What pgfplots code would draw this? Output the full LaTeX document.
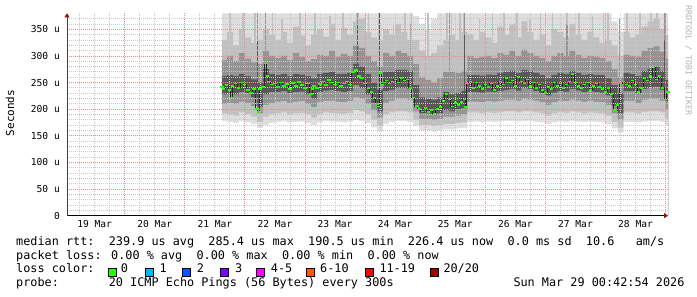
\documentclass[border=0pt]{standalone}
\usepackage{fontspec}
\usepackage{pgfplots}
\pgfplotsset{compat=1.18}
\usepackage{pgfplotstable}
\usetikzlibrary{arrows.meta}
\newfontfamily\mono{DejaVu Sans Mono}
\newcommand\legfont{\mono\fontsize{11.83}{14}\selectfont}
\newcommand\tickfont{\mono\fontsize{9.6}{11}\selectfont}
\newcommand\unitfont{\mono\fontsize{11}{13}\selectfont}
\newcommand\wmfont{\mono\fontsize{8.3}{10}\selectfont}
\definecolor{gridgray}{RGB}{200,200,200}
\definecolor{gridred}{RGB}{235,140,140}
\definecolor{arrowred}{RGB}{150,20,20}
\definecolor{s1}{RGB}{222,222,222}
\definecolor{s2}{RGB}{192,192,192}
\definecolor{s3}{RGB}{148,148,148}
\definecolor{s4}{RGB}{88,88,88}
\definecolor{medgreen}{RGB}{38,255,0}
\definecolor{lc1}{RGB}{0,184,255}
\definecolor{lc2}{RGB}{0,89,255}
\definecolor{lc3}{RGB}{126,0,255}
\definecolor{lc4}{RGB}{255,0,255}
\definecolor{lc5}{RGB}{255,85,0}
\definecolor{lc6}{RGB}{255,0,0}
\definecolor{lc7}{RGB}{161,0,0}
\definecolor{wmgray}{RGB}{180,180,180}

\pgfplotstableread{
x lo1 lo2 lo3 lo4 hi4 hi3 hi2 hi1
2.62 178 192 210 228 262 292 330 380
2.7 176 190 212 230 264 300 345 380
2.8 174 188 210 228 262 290 320 380
2.9 178 194 214 232 266 305 350 380
3.0 175 190 212 230 262 295 335 380
3.1 172 186 206 222 256 288 325 380
3.2 165 176 192 205 250 285 330 380
3.3 170 186 208 228 275 310 350 380
3.4 174 190 212 232 266 300 340 380
3.5 176 192 214 232 264 296 330 380
3.6 178 194 215 234 266 300 345 380
3.7 175 190 212 230 262 292 325 380
3.8 176 192 214 232 266 305 355 380
3.9 177 193 215 233 265 298 338 380
4.0 174 190 210 228 262 290 320 380
4.1 170 184 204 220 258 294 340 380
4.2 175 191 213 232 266 302 350 380
4.3 178 194 216 235 268 300 336 380
4.4 177 193 216 236 270 310 360 380
4.5 176 192 214 234 266 298 330 380
4.6 175 191 213 232 266 304 352 380
4.7 177 193 215 234 268 300 340 380
4.8 180 198 222 245 285 320 365 380
4.9 178 196 220 240 280 315 370 380
5.0 174 190 210 228 266 300 345 380
5.1 166 180 198 212 250 290 335 380
5.2 158 168 184 196 236 280 330 380
5.3 172 190 212 234 270 305 350 380
5.4 176 194 216 236 270 300 340 380
5.5 178 196 220 240 274 310 360 380
5.6 178 196 220 240 274 305 345 380
5.7 176 194 218 238 272 300 330 380
5.8 168 180 196 208 245 285 330 375
5.9 160 170 182 192 222 260 310 360
6.0 160 170 182 192 220 255 300 350
6.1 158 168 180 190 218 250 305 370
6.2 160 170 182 192 222 258 320 380
6.3 162 172 186 198 232 270 330 380
6.4 162 172 186 196 228 270 340 380
6.5 164 174 188 200 230 268 330 380
6.6 165 175 190 202 234 272 345 380
6.7 176 194 214 232 264 300 340 380
6.8 177 194 214 232 264 296 330 380
6.9 176 192 213 231 263 298 345 380
7.0 177 194 215 233 265 300 335 380
7.1 176 193 214 232 264 296 325 380
7.2 177 194 215 234 268 305 355 380
7.3 178 196 218 236 270 302 340 380
7.4 178 196 218 238 272 310 360 380
7.5 177 194 216 235 268 300 335 380
7.6 178 196 220 240 274 312 365 380
7.7 178 196 218 238 272 305 345 380
7.8 176 194 216 234 268 300 330 380
7.9 175 192 213 230 264 296 340 380
8.0 172 188 208 226 258 290 320 380
8.1 175 192 213 231 264 300 350 380
8.2 177 194 216 234 268 305 345 380
8.3 176 193 215 233 266 300 335 380
8.4 178 196 218 238 272 310 360 380
8.5 177 194 216 235 268 302 340 380
8.6 176 192 214 232 264 296 330 380
8.7 177 194 216 234 266 300 345 380
8.8 176 193 214 232 264 298 335 380
8.9 176 192 213 231 264 296 325 380
9.0 172 188 208 226 258 290 330 380
9.1 164 176 192 206 245 275 320 365
9.2 156 166 180 192 230 260 300 345
9.3 176 194 216 234 268 302 345 380
9.4 176 194 216 234 266 300 335 380
9.5 175 192 212 230 262 298 340 380
9.6 177 195 218 238 272 310 355 380
9.7 178 196 220 240 276 315 365 380
9.8 178 196 220 242 280 318 370 380
9.9 176 194 216 236 272 308 350 380
10.0 168 182 200 215 255 295 340 380
10.04 168 182 200 215 255 295 340 380
}\smoke

\pgfplotstableread{
x m
2.62 242
2.65 238
2.70 245
2.75 236
2.78 222
2.80 244
2.85 248
2.90 240
2.95 250
3.00 246
3.05 236
3.10 230
3.15 238
3.20 200
3.22 195
3.25 238
3.30 242
3.35 286
3.38 262
3.40 252
3.45 246
3.50 248
3.55 242
3.60 250
3.65 244
3.70 247
3.75 238
3.80 249
3.85 243
3.90 251
3.95 245
4.00 240
4.05 248
4.10 228
4.13 238
4.15 244
4.20 240
4.25 247
4.30 252
4.35 245
4.40 255
4.45 250
4.50 246
4.55 250
4.60 244
4.65 248
4.70 252
4.75 246
4.80 270
4.85 274
4.90 262
4.95 258
5.00 248
5.05 240
5.10 232
5.15 222
5.20 210
5.22 205
5.25 268
5.28 245
5.30 250
5.35 254
5.40 248
5.45 252
5.50 256
5.55 250
5.60 258
5.65 254
5.70 256
5.75 240
5.80 222
5.85 205
5.90 200
5.95 196
6.00 202
6.05 195
6.10 198
6.15 192
6.20 200
6.25 204
6.30 215
6.35 228
6.40 218
6.45 205
6.50 212
6.55 208
6.60 214
6.65 218
6.68 204
6.70 248
6.75 252
6.80 240
6.85 250
6.90 244
6.95 238
7.00 246
7.05 242
7.10 248
7.15 236
7.20 244
7.25 252
7.30 246
7.35 258
7.40 250
7.45 254
7.50 244
7.55 260
7.60 252
7.65 248
7.70 256
7.75 244
7.80 250
7.85 240
7.90 246
7.95 236
8.00 230
8.05 242
8.10 238
8.15 250
8.20 244
8.25 248
8.30 240
8.35 246
8.40 252
8.45 266
8.50 250
8.55 244
8.60 240
8.65 246
8.70 250
8.75 236
8.80 244
8.85 248
8.90 242
8.95 238
9.00 232
9.05 240
9.10 228
9.15 198
9.18 196
9.20 208
9.25 248
9.30 252
9.35 246
9.40 244
9.45 254
9.50 246
9.55 232
9.60 240
9.65 258
9.70 254
9.75 262
9.80 278
9.85 256
9.90 262
9.95 240
10.00 218
10.04 232
}\med

\begin{document}
\begin{tikzpicture}
\useasboundingbox (0pt,0pt) rectangle (697pt,297pt);
\begin{axis}[
  at={(67pt,81.3pt)}, anchor=south west,
  scale only axis, width=601pt, height=202.4pt,
  xmin=0.04, xmax=10.04, ymin=0, ymax=380,
  axis on top,
  axis x line=bottom, axis y line=left,
  x axis line style={draw=black, line width=0.8pt, -{Triangle[length=4pt,width=5pt,color=arrowred]}},
  y axis line style={draw=black!75, line width=0.8pt, -{Triangle[length=4pt,width=5pt,color=arrowred]}},
  xtick={1,2,...,10}, xticklabels={},
  minor xtick={0.25,0.5,...,10},
  extra x ticks={0.5,1.5,...,9.5},
  extra x tick labels={19 Mar,20 Mar,21 Mar,22 Mar,23 Mar,24 Mar,25 Mar,26 Mar,27 Mar,28 Mar},
  extra x tick style={grid=none},
  xticklabel style={font=\tickfont, anchor=base, inner sep=0pt, yshift=-12.1pt},
  ytick={0,50,...,350},
  yticklabels={0,50 u,100 u,150 u,200 u,250 u,300 u,350 u},
  minor ytick={10,20,...,370},
  yticklabel style={font=\tickfont, anchor=base east, inner sep=0pt, xshift=-7pt, yshift=-3.5pt},
  major tick length=0pt, minor tick length=0pt,
  grid=both,
  major grid style={draw=gridred, dash pattern=on 1pt off 1pt, line width=0.8pt},
  minor grid style={draw=gridgray, dash pattern=on 1pt off 1pt, line width=0.8pt},
]
% painter's order: each band filled down to the axis, inner bands over outer ones
\addplot[const plot, fill=s1, draw=none] table[x=x,y=hi1] {\smoke} \closedcycle;
\addplot[ycomb, draw=s2, line width=1.5pt, mark=none] coordinates {(2.75,380)(2.97,380)(3.17,380)(3.46,380)(3.62,370)(3.92,380)(4.17,380)(4.42,375)(4.63,380)(4.86,380)(4.89,380)(5.06,380)(5.23,380)(5.47,360)(5.66,380)(5.77,380)(6.05,380)(6.36,380)(6.44,380)(6.58,380)(6.64,380)(6.9,370)(7.12,380)(7.31,380)(7.53,380)(7.74,370)(7.92,380)(8.12,380)(8.36,380)(8.56,380)(8.78,375)(8.97,380)(9.04,380)(9.36,380)(9.57,380)(9.76,380)(9.86,380)(9.98,380)};
\addplot[const plot, fill=s2, draw=none] table[x=x,y=hi2] {\smoke} \closedcycle;
\addplot[ycomb, draw=s3, line width=1.2pt, mark=none] coordinates {(3.21,380)(3.34,380)(4.87,380)(5.24,380)(5.76,360)(6.41,380)(6.66,380)(8.36,360)(9.23,370)(9.99,380)};
\addplot[const plot, fill=s3, draw=none] table[x=x,y=hi3] {\smoke} \closedcycle;
\addplot[ycomb, draw=s4, line width=1pt, mark=none] coordinates {(3.21,330)(4.87,360)(5.24,380)(6.66,340)(9.99,330)};
\addplot[const plot, fill=s4, draw=none] table[x=x,y=hi4] {\smoke} \closedcycle;
\addplot[const plot, fill=s3, draw=none] table[x=x,y=lo4] {\smoke} \closedcycle;
\addplot[const plot, fill=s2, draw=none] table[x=x,y=lo3] {\smoke} \closedcycle;
\addplot[const plot, fill=s1, draw=none] table[x=x,y=lo2] {\smoke} \closedcycle;
\addplot[const plot, fill=white, draw=none] table[x=x,y=lo1] {\smoke} \closedcycle;
\addplot[const plot mark mid, draw=black!85, line width=0.8pt, mark=-, mark size=1.6pt, mark options={draw=medgreen, line width=1.6pt}] table[x=x,y=m] {\med};
\end{axis}

\node[rotate=90, font=\unitfont] at (10pt,184pt) {Seconds};
\node[rotate=-90, anchor=west, inner sep=0pt, font=\wmfont, text=wmgray] at (688.5pt,292pt) {RRDTOOL / TOBI OETIKER};

\node[anchor=base west, inner sep=0pt, font=\legfont] at (16pt,51.5pt) {median rtt:~~239.9 us avg~~285.4 us max~~190.5 us min~~226.4 us now~~0.0 ms sd~~10.6~~~am/s};
\node[anchor=base west, inner sep=0pt, font=\legfont] at (16pt,37.8pt) {packet loss: 0.00 \% avg~~0.00 \% max~~0.00 \% min~~0.00 \% now};
\node[anchor=base west, inner sep=0pt, font=\legfont] at (16pt,24.1pt) {loss color:};
\foreach \bx/\lx/\c/\t in {108.3/120.7/medgreen/0, 145.7/159.3/lc1/1, 182.7/196.7/lc2/2, 220/235/lc3/3, 256.7/270.7/lc4/4-5, 306.7/320/lc5/6-10, 365/379.3/lc6/11-19, 430/443.3/lc7/20\slash 20}{
  \filldraw[fill=\c, draw=black, line width=0.8pt] (\bx pt,20.7pt) rectangle ++(8pt,8pt);
  \node[anchor=base west, inner sep=0pt, font=\legfont] at (\lx pt,24.1pt) {\t};
}
\node[anchor=base west, inner sep=0pt, font=\legfont] at (16pt,10.4pt) {probe:~~~~~~~20 ICMP Echo Pings (56 Bytes) every 300s};
\node[anchor=base west, inner sep=0pt, font=\legfont] at (513.3pt,10.4pt) {Sun Mar 29 00:42:54 2026};
\end{tikzpicture}
\end{document}
